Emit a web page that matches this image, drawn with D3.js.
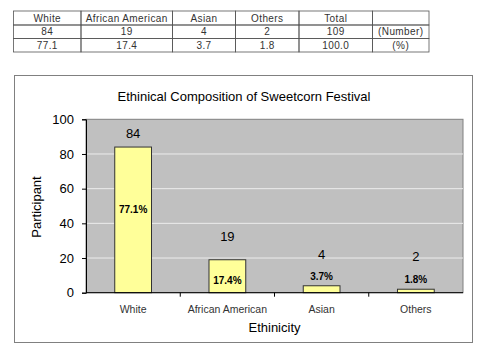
<!DOCTYPE html>
<html>
<head>
<meta charset="utf-8">
<script src="https://cdn.jsdelivr.net/npm/d3@7"></script>
<style>
  body { margin: 0; background: #fff; }
  svg { display: block; font-family: "Liberation Sans", Arial, sans-serif; }
</style>
</head>
<body>
<svg id="chart" width="488" height="352"></svg>
<script>
// data
const categories = ["White", "African American", "Asian", "Others"];
const counts = [84, 19, 4, 2];
const percents = [77.1, 17.4, 3.7, 1.8];
// where the labels sit, in participant units (labels were hand placed)
const countLabelAt = [92, 32.4, 21.8, 20.6];
const pctLabelAt = [47.7, 7.3, 9.6, 7.9];

const tableHeader = ["White", "African American", "Asian", "Others", "Total", ""];
const tableNumbers = ["84", "19", "4", "2", "109", "(Number)"];
const tablePercents = ["77.1", "17.4", "3.7", "1.8", "100.0", "(%)"];
const yTicks = [0, 20, 40, 60, 80, 100];

const svg = d3.select("#chart");

// ---- table at the top ----
const colEdges = [13.5, 81, 172.5, 235.5, 299, 372.5, 429];
const rowEdges = [11, 25, 38.5, 52];
const rows = [tableHeader, tableNumbers, tablePercents];
const tbl = svg.append("g");
rows.forEach((r, ri) => {
  r.forEach((txt, ci) => {
    tbl.append("rect")
      .attr("x", colEdges[ci]).attr("y", rowEdges[ri])
      .attr("width", colEdges[ci + 1] - colEdges[ci])
      .attr("height", rowEdges[ri + 1] - rowEdges[ri])
      .attr("fill", "none").attr("stroke", "#555").attr("stroke-width", 0.8);
    tbl.append("text")
      .attr("x", (colEdges[ci] + colEdges[ci + 1]) / 2)
      .attr("y", (rowEdges[ri] + rowEdges[ri + 1]) / 2 + 3.5)
      .attr("text-anchor", "middle")
      .attr("font-size", 10)
      .attr("letter-spacing", 0.4)
      .attr("fill", "#333")
      .text(txt);
  });
});

// ---- chart box ----
svg.append("rect")
  .attr("x", 14.5).attr("y", 75.5).attr("width", 458).attr("height", 267)
  .attr("fill", "#fff").attr("stroke", "#808080");

const plot = { left: 86, right: 463, top: 119.3, bottom: 292.7 };

const x = d3.scaleBand().domain(categories).range([plot.left, plot.right]).paddingInner(0.61).paddingOuter(0.305);
const xb = d3.scaleBand().domain(categories).range([plot.left, plot.right]);
const y = d3.scaleLinear().domain([0, 100]).range([plot.bottom, plot.top]);

svg.append("rect")
  .attr("x", plot.left).attr("y", plot.top)
  .attr("width", plot.right - plot.left).attr("height", plot.bottom - plot.top)
  .attr("fill", "#c0c0c0").attr("stroke", "#808080");

// gridlines
svg.append("g").selectAll("line")
  .data(yTicks.filter(d => d > 0 && d < 100))
  .join("line")
  .attr("x1", plot.left).attr("x2", plot.right)
  .attr("y1", d => y(d)).attr("y2", d => y(d))
  .attr("stroke", "#ececec").attr("stroke-width", 1);

// bars
svg.append("g").selectAll("rect")
  .data(categories)
  .join("rect")
  .attr("x", d => x(d))
  .attr("y", (d, i) => y(counts[i]))
  .attr("width", x.bandwidth())
  .attr("height", (d, i) => y(0) - y(counts[i]))
  .attr("fill", "#ffff99").attr("stroke", "#333").attr("stroke-width", 1);

// y axis
const yAxis = svg.append("g")
  .attr("transform", `translate(${plot.left},0)`)
  .call(d3.axisLeft(y).tickValues(yTicks).tickSize(4).tickPadding(8));
yAxis.select(".domain").attr("stroke", "#000");
yAxis.selectAll("text").attr("font-size", 13).attr("fill", "#000").attr("font-family", "Liberation Sans, Arial, sans-serif");

// x axis, ticks at the category boundaries
const xAxis = svg.append("g").attr("transform", `translate(0,${plot.bottom})`);
xAxis.append("line").attr("x1", plot.left).attr("x2", plot.right).attr("stroke", "#000");
xAxis.selectAll("line.tk")
  .data(categories.slice(1))
  .join("line").attr("class", "tk")
  .attr("x1", d => xb(d)).attr("x2", d => xb(d))
  .attr("y1", 0).attr("y2", 4).attr("stroke", "#000");
xAxis.selectAll("text")
  .data(categories)
  .join("text")
  .attr("x", d => xb(d) + xb.bandwidth() / 2)
  .attr("y", 20)
  .attr("text-anchor", "middle")
  .attr("font-size", 10.5).attr("fill", "#333")
  .text(d => d);

// labels
svg.append("g").selectAll("text")
  .data(categories)
  .join("text")
  .attr("x", d => xb(d) + xb.bandwidth() / 2)
  .attr("y", (d, i) => y(countLabelAt[i]) + 4.5)
  .attr("text-anchor", "middle")
  .attr("font-size", 13).attr("fill", "#000")
  .text((d, i) => counts[i]);

svg.append("g").selectAll("text")
  .data(categories)
  .join("text")
  .attr("x", d => xb(d) + xb.bandwidth() / 2)
  .attr("y", (d, i) => y(pctLabelAt[i]) + 3.5)
  .attr("text-anchor", "middle")
  .attr("font-size", 10).attr("font-weight", "bold").attr("fill", "#000")
  .text((d, i) => percents[i].toFixed(1) + "%");

// titles
svg.append("text")
  .attr("x", 244).attr("y", 101)
  .attr("text-anchor", "middle").attr("font-size", 13)
  .text("Ethinical Composition of Sweetcorn Festival");

svg.append("text")
  .attr("x", (plot.left + plot.right) / 2).attr("y", 332)
  .attr("text-anchor", "middle").attr("font-size", 13)
  .text("Ethinicity");

svg.append("text")
  .attr("transform", `translate(41,207) rotate(-90)`)
  .attr("text-anchor", "middle").attr("font-size", 13)
  .text("Participant");
</script>
</body>
</html>
